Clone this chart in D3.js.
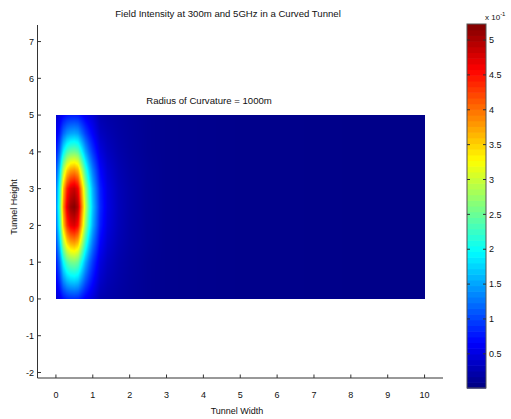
<!DOCTYPE html>
<html>
<head>
<meta charset="utf-8">
<script src="https://cdn.jsdelivr.net/npm/d3@7"></script>
<style>
  body { margin: 0; background: #fff; }
  text { font-family: "Liberation Sans", Arial, sans-serif; fill: #111; }
</style>
</head>
<body>
<svg id="chart" width="511" height="419"></svg>
<script>
// field intensity (x 10^-1) on a coarse grid
const widthPos = [0, 0.1, 0.2, 0.3, 0.4, 0.5, 0.6, 0.7, 0.8, 0.9, 1.0, 1.2, 1.4, 1.7, 2, 2.5, 3, 4, 5, 6, 8, 10]
const heightPos = [0, 0.5, 1, 1.5, 2, 2.5, 3, 3.5, 4, 4.5, 5]
// one row per heightPos, bottom row first
const intensity = [
  [0.42, 0.54, 0.72, 0.83, 0.88, 0.89, 0.86, 0.74, 0.62, 0.54, 0.46, 0.26, 0.22, 0.18, 0.15, 0.11, 0.09, 0.08, 0.07, 0.07, 0.06, 0.06],
  [0.59, 0.89, 1.36, 1.62, 1.74, 1.77, 1.70, 1.40, 1.11, 0.89, 0.71, 0.39, 0.28, 0.21, 0.16, 0.11, 0.09, 0.08, 0.07, 0.07, 0.06, 0.06],
  [0.76, 1.22, 1.96, 2.37, 2.56, 2.60, 2.49, 2.03, 1.57, 1.22, 0.94, 0.50, 0.34, 0.23, 0.17, 0.11, 0.09, 0.08, 0.07, 0.07, 0.06, 0.06],
  [0.99, 1.67, 2.77, 3.39, 3.66, 3.73, 3.56, 2.88, 2.19, 1.67, 1.26, 0.66, 0.42, 0.27, 0.19, 0.12, 0.09, 0.08, 0.07, 0.07, 0.06, 0.06],
  [1.19, 2.08, 3.51, 4.31, 4.67, 4.76, 4.54, 3.65, 2.76, 2.08, 1.55, 0.81, 0.49, 0.30, 0.20, 0.12, 0.09, 0.08, 0.07, 0.07, 0.06, 0.06],
  [1.28, 2.26, 3.83, 4.71, 5.10, 5.20, 4.96, 3.98, 3.00, 2.26, 1.67, 0.87, 0.52, 0.31, 0.21, 0.12, 0.09, 0.08, 0.07, 0.07, 0.06, 0.06],
  [1.21, 2.12, 3.58, 4.40, 4.76, 4.86, 4.63, 3.72, 2.81, 2.12, 1.57, 0.82, 0.50, 0.30, 0.21, 0.12, 0.09, 0.08, 0.07, 0.07, 0.06, 0.06],
  [1.01, 1.71, 2.84, 3.48, 3.76, 3.83, 3.66, 2.95, 2.24, 1.71, 1.29, 0.68, 0.43, 0.27, 0.19, 0.12, 0.09, 0.08, 0.07, 0.07, 0.06, 0.06],
  [0.75, 1.20, 1.92, 2.33, 2.51, 2.55, 2.44, 1.99, 1.54, 1.20, 0.93, 0.50, 0.34, 0.23, 0.17, 0.11, 0.09, 0.08, 0.07, 0.07, 0.06, 0.06],
  [0.55, 0.79, 1.18, 1.40, 1.50, 1.53, 1.47, 1.22, 0.98, 0.79, 0.64, 0.35, 0.27, 0.20, 0.16, 0.11, 0.09, 0.08, 0.07, 0.07, 0.06, 0.06],
  [0.40, 0.50, 0.65, 0.74, 0.78, 0.79, 0.77, 0.67, 0.57, 0.50, 0.44, 0.25, 0.21, 0.18, 0.15, 0.11, 0.09, 0.08, 0.07, 0.07, 0.06, 0.06]
]
const xTicks = d3.range(0, 11)
const yTicks = d3.range(-2, 8)
const cbarTicks = [0.5, 1, 1.5, 2, 2.5, 3, 3.5, 4, 4.5, 5]
const cbarRange = [0.01, 5.23]

const svg = d3.select('#chart')

const x = d3.scaleLinear().domain([-0.5, 10.5]).range([37.5, 443])
const y = d3.scaleLinear().domain([-2.15, 7.45]).range([378, 25])

// matlab jet
const jet = (t) => {
  const c = (v) => Math.round(255 * Math.max(0, Math.min(1, v)))
  return `rgb(${c(1.5 - Math.abs(4 * t - 3))},${c(1.5 - Math.abs(4 * t - 2))},${c(1.5 - Math.abs(4 * t - 1))})`
}
const color = d3.scaleSequential(jet).domain(cbarRange)

// heat map, shaded between grid points
const x0 = Math.round(x(0)), x1 = Math.round(x(10))
const y0 = Math.round(y(5)), y1 = Math.round(y(0))
const w = x1 - x0, h = y1 - y0
const canvas = document.createElement('canvas')
canvas.width = w
canvas.height = h
const ctx = canvas.getContext('2d')
const img = ctx.createImageData(w, h)
const locate = (arr, v) => {
  let i = Math.max(0, Math.min(arr.length - 2, d3.bisectRight(arr, v) - 1))
  const f = Math.max(0, Math.min(1, (v - arr[i]) / (arr[i + 1] - arr[i])))
  return [i, f]
}
for (let py = 0; py < h; py++) {
  const [j, fy] = locate(heightPos, y.invert(y0 + py + 0.5))
  for (let px = 0; px < w; px++) {
    const [i, fx] = locate(widthPos, x.invert(x0 + px + 0.5))
    const a = intensity[j][i] * (1 - fx) + intensity[j][i + 1] * fx
    const b = intensity[j + 1][i] * (1 - fx) + intensity[j + 1][i + 1] * fx
    const c = d3.rgb(color(a * (1 - fy) + b * fy))
    const k = (py * w + px) * 4
    img.data[k] = c.r
    img.data[k + 1] = c.g
    img.data[k + 2] = c.b
    img.data[k + 3] = 255
  }
}
ctx.putImageData(img, 0, 0)
svg.append('image')
  .attr('x', x0)
  .attr('y', y0)
  .attr('width', w)
  .attr('height', h)
  .attr('href', canvas.toDataURL())

// axes (box off, ticks inward)
const axisColor = '#333'
const yAxis = svg.append('g').attr('class', 'y-axis')
yAxis.append('line')
  .attr('x1', 37.5).attr('x2', 37.5)
  .attr('y1', y.range()[1]).attr('y2', y.range()[0])
  .attr('stroke', axisColor)
yAxis.selectAll('.tick')
  .data(yTicks).enter()
  .append('line')
  .attr('stroke', axisColor)
  .attr('x1', 37.5).attr('x2', 41)
  .attr('y1', (d) => y(d)).attr('y2', (d) => y(d))
yAxis.selectAll('.label')
  .data(yTicks).enter()
  .append('text')
  .attr('text-anchor', 'end')
  .attr('font-size', 9)
  .attr('x', 34)
  .attr('y', (d) => y(d) + 3.2)
  .text((d) => d)

const xAxis = svg.append('g').attr('class', 'x-axis')
xAxis.append('line')
  .attr('x1', x.range()[0]).attr('x2', x.range()[1])
  .attr('y1', 378).attr('y2', 378)
  .attr('stroke', axisColor)
xAxis.selectAll('.tick')
  .data(xTicks).enter()
  .append('line')
  .attr('stroke', axisColor)
  .attr('x1', (d) => x(d)).attr('x2', (d) => x(d))
  .attr('y1', 378).attr('y2', 374.5)
xAxis.selectAll('.label')
  .data(xTicks).enter()
  .append('text')
  .attr('text-anchor', 'middle')
  .attr('font-size', 9)
  .attr('x', (d) => x(d))
  .attr('y', 398)
  .text((d) => d)

// titles
svg.append('text')
  .attr('text-anchor', 'middle')
  .attr('font-size', 9.6)
  .attr('x', 228).attr('y', 17)
  .text('Field Intensity at 300m and 5GHz in a Curved Tunnel')
svg.append('text')
  .attr('text-anchor', 'middle')
  .attr('font-size', 9.6)
  .attr('x', 209).attr('y', 104)
  .text('Radius of Curvature = 1000m')
svg.append('text')
  .attr('text-anchor', 'middle')
  .attr('font-size', 9)
  .attr('x', 237).attr('y', 414)
  .text('Tunnel Width')
svg.append('text')
  .attr('text-anchor', 'middle')
  .attr('font-size', 9)
  .attr('transform', 'translate(17,207) rotate(-90)')
  .text('Tunnel Height')

// colorbar
const cb = { left: 467, width: 19 }
const cy = d3.scaleLinear().domain(cbarRange).range([388, 24])
const bar = svg.append('g').attr('class', 'colorbar')
const steps = d3.range(64)
const stepValue = (i) => cbarRange[0] + (cbarRange[1] - cbarRange[0]) * i / 64
bar.selectAll('rect.cell')
  .data(steps).enter()
  .append('rect')
  .attr('class', 'cell')
  .attr('x', cb.left)
  .attr('width', cb.width)
  .attr('y', (i) => cy(stepValue(i + 1)))
  .attr('height', (i) => cy(stepValue(i)) - cy(stepValue(i + 1)) + 0.6)
  .attr('fill', (i) => color(stepValue(i + 0.5)))
bar.append('rect')
  .attr('x', cb.left).attr('y', cy(cbarRange[1]))
  .attr('width', cb.width).attr('height', cy(cbarRange[0]) - cy(cbarRange[1]))
  .attr('fill', 'none')
  .attr('stroke', '#555')
bar.selectAll('.tick-l')
  .data(cbarTicks).enter()
  .append('line')
  .attr('stroke', '#333')
  .attr('x1', cb.left).attr('x2', cb.left + 3)
  .attr('y1', (d) => cy(d)).attr('y2', (d) => cy(d))
bar.selectAll('.tick-r')
  .data(cbarTicks).enter()
  .append('line')
  .attr('stroke', '#333')
  .attr('x1', cb.left + cb.width - 3).attr('x2', cb.left + cb.width)
  .attr('y1', (d) => cy(d)).attr('y2', (d) => cy(d))
bar.selectAll('.label')
  .data(cbarTicks).enter()
  .append('text')
  .attr('font-size', 9)
  .attr('x', cb.left + cb.width + 3)
  .attr('y', (d) => cy(d) + 3.2)
  .text((d) => d)
const exp = bar.append('text').attr('font-size', 8).attr('x', 485).attr('y', 20)
exp.append('tspan').text('x 10')
exp.append('tspan').attr('font-size', 6).attr('dy', -4).text('-1')
</script>
</body>
</html>
